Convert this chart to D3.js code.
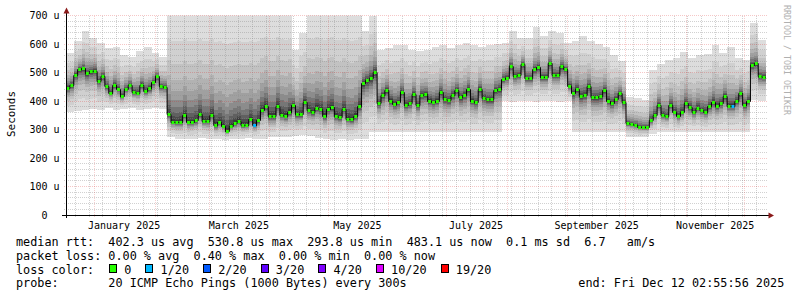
<!DOCTYPE html>
<html>
<head>
<meta charset="utf-8">
<script src="https://cdn.jsdelivr.net/npm/d3@7"></script>
<style>
  html, body { margin: 0; padding: 0; background: #fff; }
  svg { display: block; }
  text { font-family: "DejaVu Sans Mono", monospace; white-space: pre; }
</style>
</head>
<body>
<svg id="chart" width="797" height="297"></svg>
<script>
const endTime = Date.UTC(2025, 11, 12, 2, 55, 56)
const spanDays = 360
const stepDays = 2
const smokeStepDays = 4

// median rtt in microseconds, one value per 2 days
const median = [
  445, 455, 490, 510, 513, 495, 503, 505, 470, 486,
  450, 428, 455, 440, 416, 440, 455, 430, 428, 455,
  435, 443, 465, 485, 450, 448, 352, 325, 323, 325,
  348, 323, 323, 330, 352, 327, 327, 350, 313, 323,
  310, 294, 310, 320, 327, 313, 315, 334, 315, 330,
  365, 380, 345, 345, 380, 350, 345, 360, 383, 352,
  352, 395, 365, 359, 375, 369, 345, 370, 376, 345,
  341, 370, 336, 334, 345, 380, 460, 472, 478, 500,
  390, 418, 436, 400, 387, 394, 429, 383, 390, 422,
  383, 420, 422, 400, 394, 400, 430, 405, 401, 420,
  436, 411, 420, 440, 400, 394, 440, 410, 404, 404,
  436, 440, 475, 480, 521, 486, 490, 528, 478, 478,
  510, 517, 482, 482, 531, 489, 489, 520, 510, 450,
  425, 440, 415, 420, 450, 411, 411, 415, 436, 400,
  390, 405, 425, 394, 320, 317, 315, 308, 306, 306,
  330, 350, 385, 350, 345, 385, 360, 345, 360, 390,
  376, 359, 375, 365, 359, 380, 395, 380, 390, 415,
  382, 382, 400, 425, 383, 400, 525, 530, 485, 483
]

// fastest and slowest ping, one value per 4 days
const smokeLow = [
  360, 365, 370, 372, 368, 375, 370, 372, 375, 370, 372, 375, 372,
  272, 268, 265, 266, 270, 268, 265, 264, 266, 268, 270, 266, 268,
  272, 275, 274, 276, 280, 278, 270, 266, 264, 265, 264, 266, 268,
  290, 292, 292, 290, 292, 292, 290, 292, 292, 290, 292, 292, 292, 290, 292, 292, 292,
  400, 398, 400, 400, 398, 400, 400, 398, 400,
  292, 290, 292, 292, 290, 292, 292,
  274, 272, 274, 285,
  292, 292, 290, 292, 292, 292, 290, 292, 292, 292, 290, 292,
  402, 400
]
const smokeHigh = [
  570, 609, 645, 622, 604, 587, 590, 560, 555, 575, 590, 570, 556,
  720, 720, 720, 720, 720, 720, 720, 720, 720, 720, 720, 720, 720,
  720, 720, 720, 580, 640, 720, 720, 720, 720, 720, 720, 720, 645,
  698, 580, 585, 598, 598, 580, 575, 580, 590, 598, 585, 595, 604, 595, 590, 598, 600,
  604, 645, 620, 620, 660, 627, 645, 638, 604,
  609, 627, 610, 600, 591, 560, 540,
  415, 410, 405, 510,
  530, 545, 552, 573, 550, 560, 565, 598, 570, 591, 550, 545,
  675, 615
]

// steps where 1 of 20 pings was lost
const lossSteps = [48, 171]

const yTicks = [0, 100, 200, 300, 400, 500, 600, 700]
const yMinorStep = 20
const monthTicks = ["2025-01-01", "2025-03-01", "2025-05-01", "2025-07-01", "2025-09-01", "2025-11-01"]

const lossLegend = [
  ["0", "#26ff00"], ["1/20", "#00b8ff"], ["2/20", "#0059ff"], ["3/20", "#5e00ff"],
  ["4/20", "#7e00ff"], ["10/20", "#dd00ff"], ["19/20", "#ff0000"]
]
const statLines = [
  "median rtt:  402.3 us avg  530.8 us max  293.8 us min  483.1 us now  0.1 ms sd  6.7   am/s",
  "packet loss: 0.00 % avg  0.40 % max  0.00 % min  0.00 % now"
]
const probeLine = "probe:       20 ICMP Echo Pings (1000 Bytes) every 300s"

const smokeFractions = [1, 0.72, 0.52, 0.38, 0.28, 0.2, 0.14, 0.09, 0.055, 0.03]
const smokeShades = [221, 208, 194, 178, 160, 140, 118, 96, 76, 58]

const day = 864e5
const start = new Date(endTime - spanDays * day)
const svg = d3.select("#chart")
const crisp = v => Math.round(v - 0.5) + 0.5

const x = d3.scaleUtc().domain([start, new Date(endTime)]).range([66, 766])
const y = d3.scaleLinear().domain([0, 700]).range([215, 15.5])

const points = median.map((m, i) => {
  const j = Math.floor(i * stepDays / smokeStepDays)
  return {
    t: new Date(start.getTime() + i * stepDays * day),
    t1: new Date(start.getTime() + (i + 1) * stepDays * day),
    med: m, lo: smokeLow[j], hi: smokeHigh[j],
    loss: lossSteps.includes(i) ? 1 : 0
  }
})
const series = [...points, {...points[points.length - 1], t: new Date(endTime)}]

svg.append("defs").append("clipPath").attr("id", "plot")
  .append("rect").attr("x", 66).attr("y", 15.5).attr("width", 700).attr("height", 199.5)

// smoke
const smoke = svg.append("g").attr("clip-path", "url(#plot)").attr("shape-rendering", "crispEdges")
smokeFractions.forEach((f, k) => {
  const area = d3.area()
    .curve(d3.curveStepAfter)
    .x(d => x(d.t))
    .y0(d => y(d.med - f * (d.med - d.lo)))
    .y1(d => y(d.med + f * (d.hi - d.med)))
  const s = smokeShades[k]
  smoke.append("path").datum(series).attr("d", area).attr("fill", d3.rgb(s, s, s))
})

// grid
const grid = svg.append("g").attr("stroke-dasharray", "1,1").attr("shape-rendering", "crispEdges")
const minorY = d3.range(0, 701, yMinorStep).filter(v => v % 100 !== 0)
grid.selectAll(".hminor").data(minorY).join("line")
  .attr("x1", 64).attr("x2", 768)
  .attr("y1", d => crisp(y(d))).attr("y2", d => crisp(y(d)))
  .attr("stroke", "rgba(140,140,140,0.4)")
const months = d3.utcMonth.range(start, new Date(endTime))
const weeks = d3.utcWeek.range(start, new Date(endTime)).filter(w => w.getUTCDate() !== 1)
grid.selectAll(".vminor").data(weeks).join("line")
  .attr("x1", d => crisp(x(d))).attr("x2", d => crisp(x(d)))
  .attr("y1", 217).attr("y2", 15.5)
  .attr("stroke", "rgba(140,140,140,0.4)")
grid.selectAll(".hmajor").data(yTicks.slice(1)).join("line")
  .attr("x1", 64).attr("x2", 768)
  .attr("y1", d => crisp(y(d))).attr("y2", d => crisp(y(d)))
  .attr("stroke", "rgba(220,40,40,0.26)")
grid.selectAll(".vmajor").data(months).join("line")
  .attr("x1", d => crisp(x(d))).attr("x2", d => crisp(x(d)))
  .attr("y1", 217).attr("y2", 15.5)
  .attr("stroke", "rgba(220,40,40,0.22)")

// median line coloured by loss
const plot = svg.append("g").attr("clip-path", "url(#plot)")
plot.append("path").datum(series)
  .attr("d", d3.line().curve(d3.curveStepAfter).x(d => x(d.t)).y(d => crisp(y(d.med))))
  .attr("fill", "none").attr("stroke", "#000").attr("stroke-width", 1)
plot.selectAll(".med").data(points).join("line")
  .attr("x1", d => x(d.t) + 0.5).attr("x2", d => x(d.t1) - 0.5)
  .attr("y1", d => crisp(y(d.med))).attr("y2", d => crisp(y(d.med)))
  .attr("stroke", d => lossLegend[d.loss][1]).attr("stroke-width", 3)

// axes
const axes = svg.append("g").attr("shape-rendering", "crispEdges")
axes.append("line").attr("x1", 66.5).attr("x2", 66.5).attr("y1", 218).attr("y2", 12).attr("stroke", "#000")
axes.append("line").attr("x1", 62).attr("x2", 769).attr("y1", 215.5).attr("y2", 215.5).attr("stroke", "#000")
svg.append("path").attr("d", "M63.5,13.5L69.5,13.5L66.5,7.5Z").attr("fill", "#8b1a1a")
svg.append("path").attr("d", "M768.5,212.5L768.5,218.5L774,215.5Z").attr("fill", "#8b1a1a")

svg.append("g")
  .attr("transform", "translate(66,0)")
  .call(d3.axisLeft(y).tickValues(yTicks).tickSize(0).tickPadding(6.5)
    .tickFormat(v => v === 0 ? "0  " : `${v} u`))
  .call(g => g.select(".domain").remove())
  .call(g => g.selectAll("text").attr("font-family", "DejaVu Sans Mono").attr("font-size", 10).attr("fill", "#000"))

svg.append("g").selectAll("text").data(monthTicks).join("text")
  .attr("x", d => x(d3.utcDay.offset(new Date(d), 15)))
  .attr("y", 228.5)
  .attr("text-anchor", "middle")
  .attr("font-size", 10)
  .text(d => d3.utcFormat("%B %Y")(new Date(d)))

svg.append("text")
  .attr("transform", "translate(14.5,114) rotate(-90)")
  .attr("text-anchor", "middle")
  .attr("font-size", 10.9)
  .text("Seconds")

svg.append("text")
  .attr("transform", "translate(783.5,5) rotate(90)")
  .attr("font-size", 8.3)
  .attr("fill", "#b0b0b0")
  .text("RRDTOOL / TOBI OETIKER")

// legend
const legend = svg.append("g").attr("font-size", 11.8).attr("fill", "#000")
statLines.forEach((line, i) => {
  legend.append("text").attr("x", 16).attr("y", 245.7 + i * 13.9).text(line)
})
legend.append("text").attr("x", 16).attr("y", 273.5).text("loss color:")
let lx = 109.5
lossLegend.forEach(([label, color]) => {
  legend.append("rect").attr("x", lx).attr("y", 264.5).attr("width", 7).attr("height", 8)
    .attr("fill", color).attr("stroke", "#000").attr("stroke-width", 1).attr("shape-rendering", "crispEdges")
  const t = legend.append("text").attr("x", lx + 14.8).attr("y", 273.5).text(label)
  lx += 14.8 + t.node().getComputedTextLength() + 14.4
})
legend.append("text").attr("x", 16).attr("y", 287.4).text(probeLine)
legend.append("text").attr("x", 578.3).attr("y", 287.4)
  .text(d3.utcFormat("end: %a %b %d %H:%M:%S %Y")(new Date(endTime)))
</script>
</body>
</html>
